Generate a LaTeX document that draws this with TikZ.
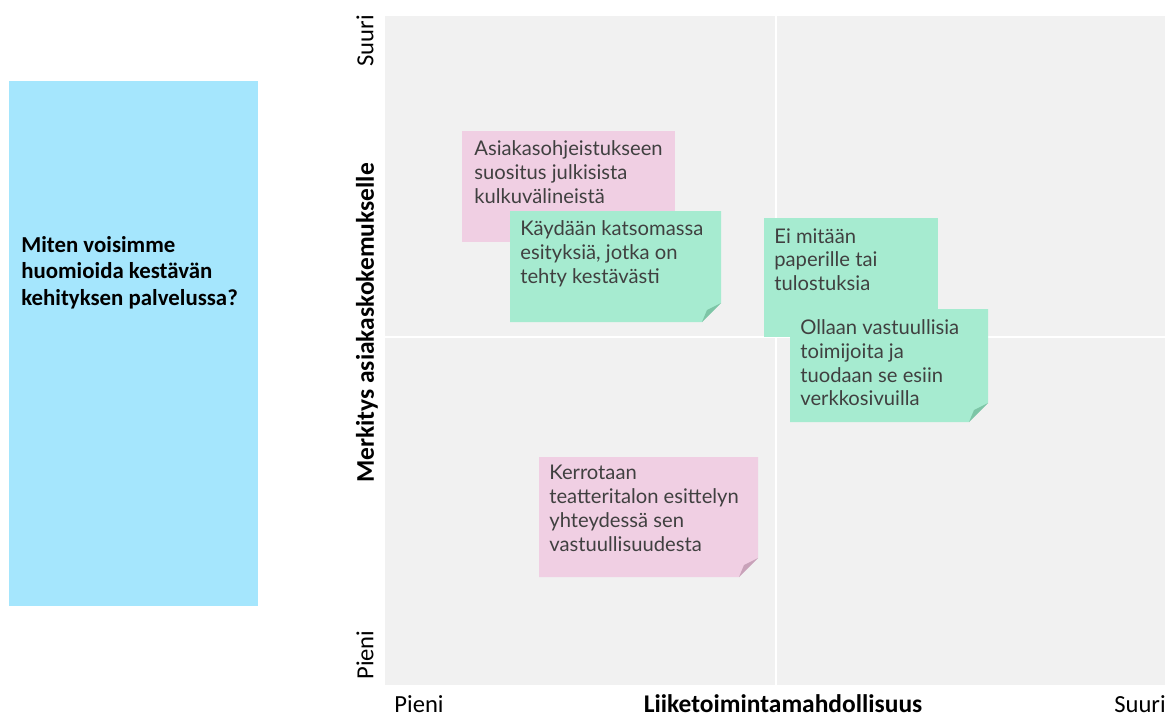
\documentclass[tikz,border=0pt]{standalone}
\usepackage{fontspec}
\setmainfont{Carlito}
\newfontfamily\notefont{Lato}
\definecolor{plotgrey}{HTML}{F1F1F1}
\definecolor{questionblue}{HTML}{A5E6FD}
\definecolor{notepink}{HTML}{F0CFE3}
\definecolor{notegreen}{HTML}{A6EBD0}
\definecolor{foldpink}{HTML}{C8A2B9}
\definecolor{foldgreen}{HTML}{7DC5A6}
\definecolor{notetext}{HTML}{404040}
\tikzset{
  notetext/.style={anchor=north west, inner sep=0pt, align=left,
    text=notetext, font=\notefont\fontsize{11.5}{13.6}\selectfont},
  axislabel/.style={inner sep=0pt, font=\fontsize{14}{16}\selectfont},
  axistitle/.style={inner sep=0pt, font=\bfseries\fontsize{14.5}{16}\selectfont},
}
% folded bottom-right corner of a sticky note ending at (#1,#2)
\newcommand\notefold[3]{%
  \fill[plotgrey] (#1-19,#2) -- (#1,#2) -- (#1,#2-19) -- cycle;
  \fill[#3] (#1-19,#2) -- (#1,#2-19) -- (#1-14,#2-12) -- cycle;}
\begin{document}
\begin{tikzpicture}[x=0.02cm,y=-0.02cm]
  \useasboundingbox (0,0) rectangle (1175,718);
  \fill[white] (0,0) rectangle (1175,718);

  % question card
  \fill[questionblue] (9,81) rectangle (258,606);
  \node[anchor=north west, inner sep=0pt, align=left,
        font=\bfseries\fontsize{13}{15}\selectfont] (question) at (21,236)
    {Miten voisimme\\huomioida kestävän\\kehityksen palvelussa?};

  % plot area with quadrant dividers
  \fill[plotgrey] (385,16) rectangle (1165,685);
  \draw[white, line width=1.5pt] (776,16) -- (776,685);
  \draw[white, line width=1.5pt] (385,337) -- (1165,337);

  % axis labels
  \node[axislabel, rotate=90] (ytop) at (365,41) {Suuri};
  \node[axislabel, rotate=90] (ybottom) at (365,655) {Pieni};
  \node[axistitle, rotate=90] (ytitle) at (367,323) {Merkitys asiakaskokemukselle};
  \node[axislabel] (xleft) at (419,704) {Pieni};
  \node[axistitle] (xtitle) at (783,704) {Liiketoimintamahdollisuus};
  \node[axislabel] (xright) at (1140,704) {Suuri};

  % sticky notes
  \fill[notepink] (462,131) rectangle (675,242);
  \node[notetext] (n1) at (474,140) {Asiakasohjeistukseen\\suositus julkisista\\kulkuvälineistä};

  \fill[notegreen] (510,211) -- (721,211) -- (721,303) -- (702,322) -- (510,322) -- cycle;
  \notefold{721}{322}{foldgreen}
  \node[notetext] (n2) at (520,220) {Käydään katsomassa\\esityksiä, jotka on\\tehty kestävästi};

  \fill[notegreen] (764,218) rectangle (938,337);
  \node[notetext] (n3) at (774,228) {Ei mitään\\paperille tai\\tulostuksia};

  \fill[notegreen] (790,309) -- (988,309) -- (988,403) -- (969,422) -- (790,422) -- cycle;
  \notefold{988}{422}{foldgreen}
  \node[notetext] (n4) at (800,319) {Ollaan vastuullisia\\toimijoita ja\\tuodaan se esiin\\verkkosivuilla};

  \fill[notepink] (539,457) -- (758,457) -- (758,558) -- (739,577) -- (539,577) -- cycle;
  \notefold{758}{577}{foldpink}
  \node[notetext] (n5) at (549,465) {Kerrotaan\\teatteritalon esittelyn\\yhteydessä sen\\vastuullisuudesta};
\end{tikzpicture}
\end{document}
